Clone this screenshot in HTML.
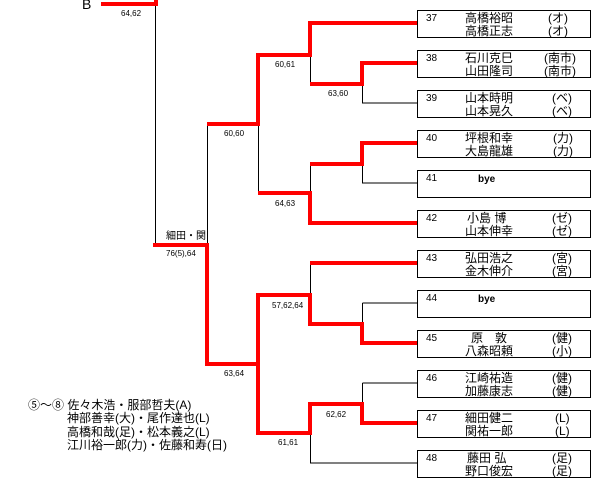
<!DOCTYPE html>
<html><head><meta charset="utf-8"><style>
body{margin:0;background:#fff;width:608px;height:492px;overflow:hidden}
svg{display:block}
text{font-family:"Liberation Sans","Noto Sans CJK JP",sans-serif;fill:#000}
.s{font-size:8px}
.n{font-size:10px}
.j{font-size:12px}
</style></head><body>
<svg width="608" height="492" viewBox="0 0 608 492">
<g fill="#fff" stroke="#000" stroke-width="1">
<rect x="417.5" y="10.5" width="173" height="27"/>
<rect x="417.5" y="50.5" width="173" height="27"/>
<rect x="417.5" y="90.5" width="173" height="27"/>
<rect x="417.5" y="130.5" width="173" height="27"/>
<rect x="417.5" y="170.5" width="173" height="27"/>
<rect x="417.5" y="210.5" width="173" height="27"/>
<rect x="417.5" y="250.5" width="173" height="27"/>
<rect x="417.5" y="290.5" width="173" height="27"/>
<rect x="417.5" y="330.5" width="173" height="27"/>
<rect x="417.5" y="370.5" width="173" height="27"/>
<rect x="417.5" y="410.5" width="173" height="27"/>
<rect x="417.5" y="450.5" width="173" height="27"/>
</g>
<g stroke="#000" stroke-width="1" fill="none">
<path d="M155.5 4V245M207.5 124V245M258.5 124V193M310.5 55V84M362.5 84V103H417M310.5 164V193M362.5 164V183H417"/>
<path d="M258.5 295V364M310.5 263V295M362.5 303V324M362.5 303H417M310.5 433V463H417M362.5 383V404M362.5 383H417"/>
</g>
<g stroke="#f00" stroke-width="4" fill="none" stroke-linejoin="miter">
<path d="M101 4H156V0"/>
<path d="M153 245H207V364H258V433H310V404H362V423H417"/>
<path d="M207 124H258V55H310V23H417"/>
<path d="M310 84H362V63H417"/>
<path d="M258 193H310V223H417"/>
<path d="M310 164H362V143H417"/>
<path d="M258 364V295H310V324H362V343H417"/>
<path d="M310 263H417"/>
</g>
<text x="82" y="9" style="font-size:14px">B</text>
<g class="s">
<text x="121" y="16">64,62</text>
<text x="275" y="67">60,61</text>
<text x="328" y="96">63,60</text>
<text x="224" y="136">60,60</text>
<text x="275" y="206">64,63</text>
<text x="166" y="256">76(5),64</text>
<text x="272" y="308">57,62,64</text>
<text x="224" y="376">63,64</text>
<text x="326" y="417">62,62</text>
<text x="278" y="445">61,61</text>
</g>
<text x="166" y="239" class="n">細田・関</text>
<g class="j">
<text x="28" y="409">⑤～⑧ 佐々木浩・服部哲夫(A)</text>
<text x="67" y="422">神部善幸(大)・尾作達也(L)</text>
<text x="67" y="436">高橋和哉(足)・松本義之(L)</text>
<text x="67" y="449">江川裕一郎(力)・佐藤和寿(日)</text>
</g>
<g class="n">
<text x="426" y="21">37</text><text x="426" y="61">38</text><text x="426" y="101">39</text>
<text x="426" y="141">40</text><text x="426" y="181">41</text><text x="426" y="221">42</text>
<text x="426" y="261">43</text><text x="426" y="301">44</text><text x="426" y="341">45</text>
<text x="426" y="381">46</text><text x="426" y="421">47</text><text x="426" y="461">48</text>
</g>
<g class="j">
<text x="465" y="22">高橋裕昭</text><text x="465" y="35">高橋正志</text>
<text x="548" y="22">(オ)</text><text x="548" y="35">(オ)</text>
<text x="465" y="62">石川克巳</text><text x="465" y="75">山田隆司</text>
<text x="544" y="62">(南市)</text><text x="544" y="75">(南市)</text>
<text x="465" y="102">山本時明</text><text x="465" y="115">山本晃久</text>
<text x="552" y="102">(ベ)</text><text x="552" y="115">(ベ)</text>
<text x="465" y="142">坪根和幸</text><text x="465" y="155">大島龍雄</text>
<text x="553" y="142">(力)</text><text x="553" y="155">(力)</text>
<text x="478" y="182" style="font-weight:bold;font-size:10px">bye</text>
<text x="467" y="222">小島 博</text><text x="465" y="235">山本伸幸</text>
<text x="552" y="222">(ゼ)</text><text x="552" y="235">(ゼ)</text>
<text x="465" y="262">弘田浩之</text><text x="465" y="275">金木伸介</text>
<text x="552" y="262">(宮)</text><text x="552" y="275">(宮)</text>
<text x="478" y="302" style="font-weight:bold;font-size:10px">bye</text>
<text x="471" y="342">原　敦</text><text x="465" y="355">八森昭頼</text>
<text x="552" y="342">(健)</text><text x="552" y="355">(小)</text>
<text x="465" y="382">江崎祐造</text><text x="465" y="395">加藤康志</text>
<text x="552" y="382">(健)</text><text x="552" y="395">(健)</text>
<text x="465" y="422">細田健二</text><text x="465" y="435">関祐一郎</text>
<text x="555" y="422">(L)</text><text x="555" y="435">(L)</text>
<text x="467" y="462">藤田 弘</text><text x="465" y="475">野口俊宏</text>
<text x="552" y="462">(足)</text><text x="552" y="475">(足)</text>
</g>
</svg>
</body></html>
